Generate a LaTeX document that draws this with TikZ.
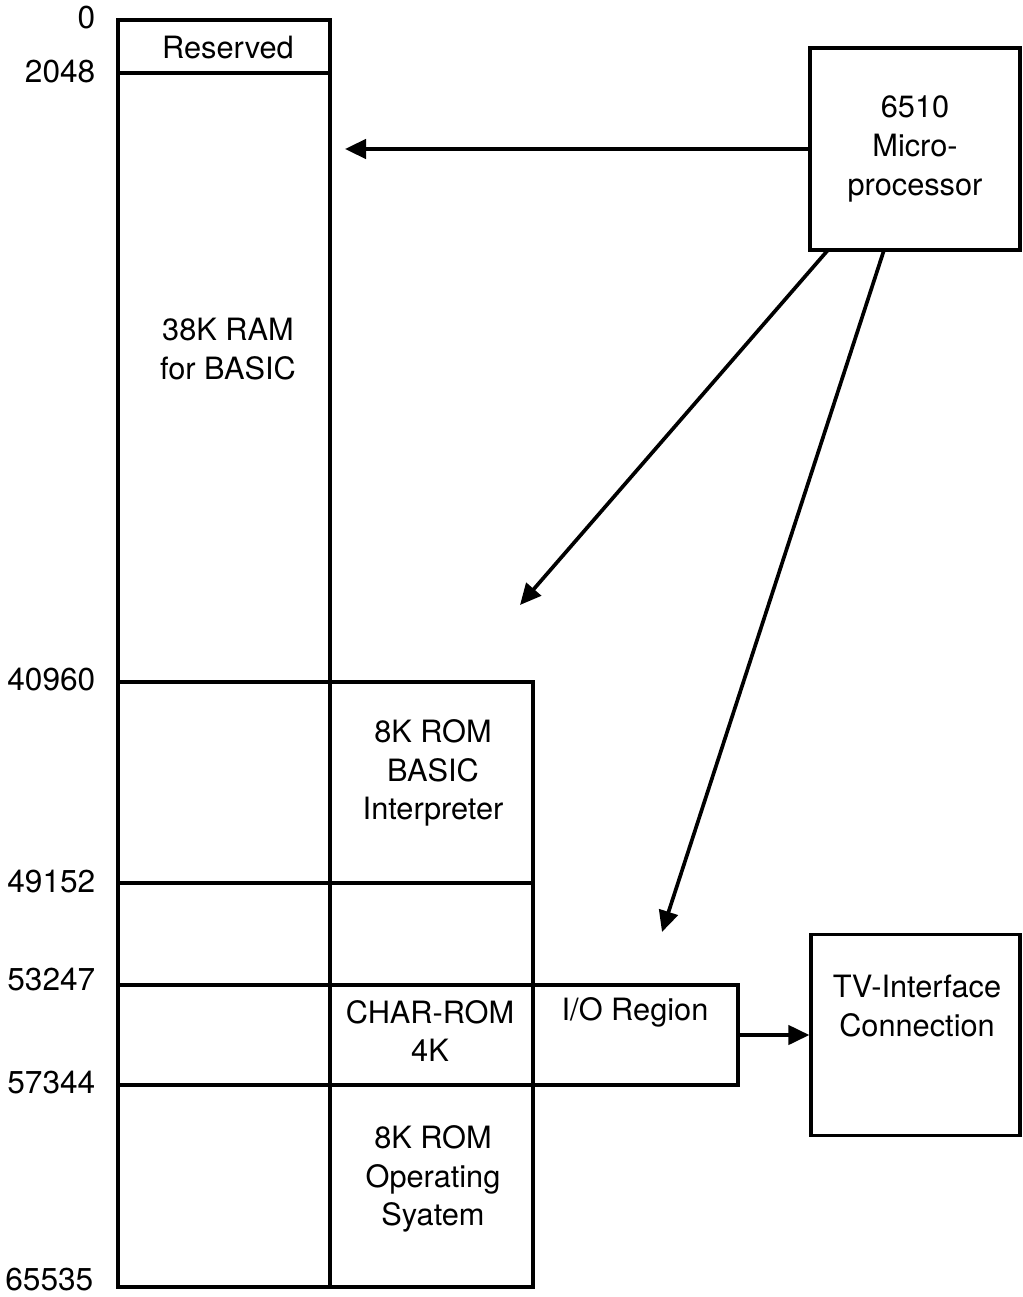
\documentclass[tikz,border=0pt]{standalone}
\usepackage{fontspec}
\setmainfont{TeX Gyre Heros}
\usetikzlibrary{arrows.meta, positioning}

\begin{document}
\begin{tikzpicture}[
  x=0.02cm, y=-0.02cm,
  line width=1.9pt,
  box/.style={draw,line width=1.9pt,inner sep=0pt,align=center},
  txt/.style={align=center,font=\fontsize{17.5}{22}\selectfont},
  addr/.style={anchor=east,inner sep=0pt,font=\fontsize{18}{22}\selectfont},
  arr/.style={-{Triangle[length=12pt,width=11pt]},line width=2.1pt}
]
\useasboundingbox (0,0) rectangle (1022,1297);

% memory map
\draw (118,20) rectangle (330,1287);
\draw (118,73) -- (330,73);
\draw (330,682) rectangle (533,1287);
\foreach \y in {682,883,985,1085} \draw (118,\y) -- (533,\y);
\node[box,minimum width=4.1cm,minimum height=2cm] (io) at (635.5,1035) {};

% addresses
\node[addr] (a0)     at (97,18)   {0};
\node[addr] (a2048)  at (97,72)   {2048};
\node[addr] (a40960) at (97,680)  {40960};
\node[addr] (a49152) at (97,882)  {49152};
\node[addr] (a53247) at (97,980)  {53247};
\node[addr] (a57344) at (97,1083) {57344};
\node[addr] (a65535) at (95,1280) {65535};

% contents
\node[txt] (res)   at (228,48)   {Reserved};
\node[txt] (ram)   at (228,349)  {38K RAM\\for BASIC};
\node[txt] (basic) at (433,773)  {8K ROM\\BASIC\\Interpreter};
\node[txt] (chr)   at (430,1031) {CHAR-ROM\\4K};
\node[txt] (iol)   at (635,1012) {I/O Region};
\node[txt] (kern)  at (433,1179) {8K ROM\\Operating\\Syatem};

% outside
\node[box,txt,minimum width=4.2cm,minimum height=4.04cm] (cpu) at (915,149)
  {6510\\Micro-\\processor};
\node[box,minimum width=4.18cm,minimum height=4.02cm] (tv) at (915.5,1035) {};
\node[txt] (tvl) at (917,1006) {TV-Interface\\Connection};

\coordinate (p1) at (345,149);
\coordinate (s2) at (828,250);
\coordinate (p2) at (520,605);
\coordinate (s3) at (884,250);
\coordinate (p3) at (662,932);
\draw[arr] (cpu.west) -- (p1);
\draw[arr] (s2) -- (p2);
\draw[arr] (s3) -- (p3);
\draw[arr] (io.east) -- (tv.west);
\end{tikzpicture}
\end{document}
